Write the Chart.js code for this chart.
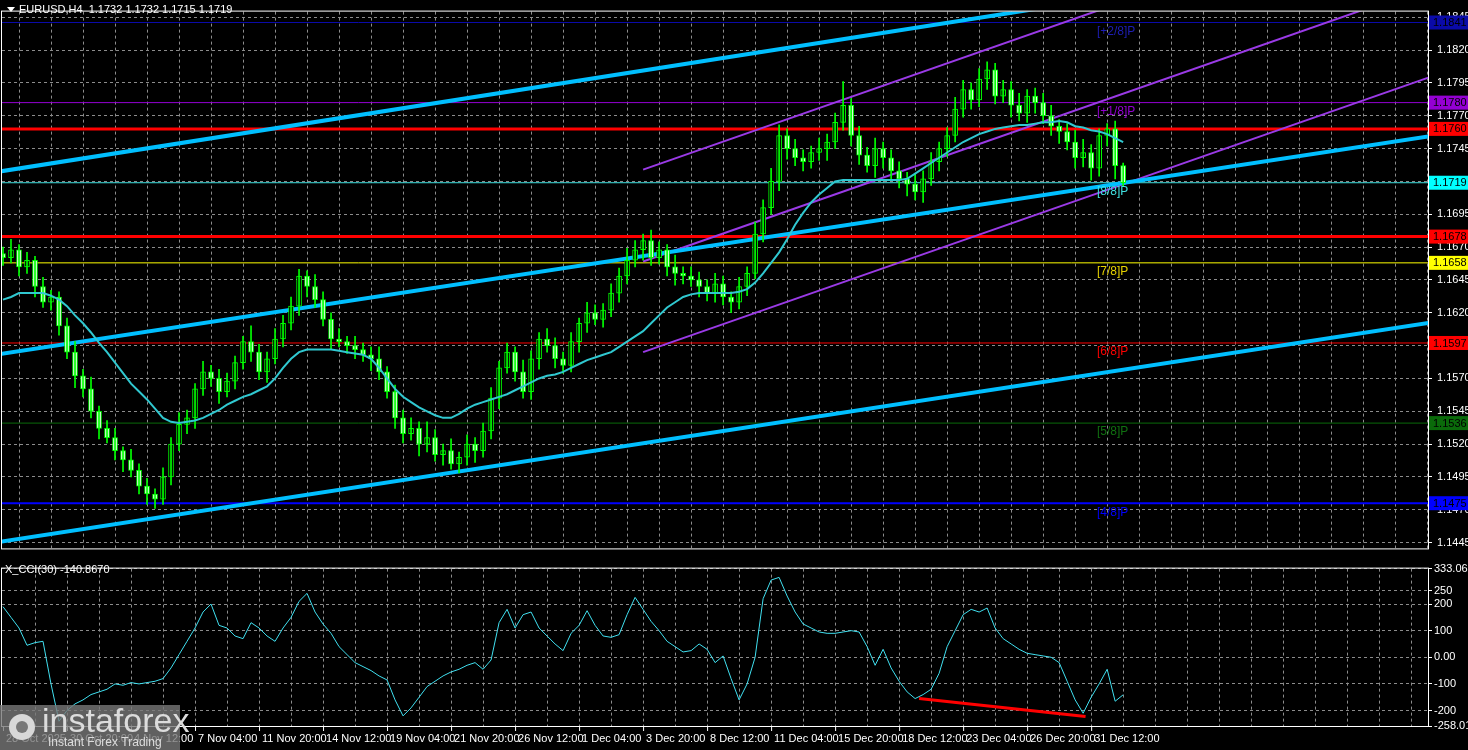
<!DOCTYPE html><html><head><meta charset="utf-8">
<script src="https://cdn.jsdelivr.net/npm/chart.js@4"></script>
<style>body{margin:0;background:#000;overflow:hidden;width:1468px;height:750px;position:relative}.w{position:absolute;left:0;width:1468px}</style></head><body>
<div class="w" style="top:0;height:560px"><canvas id="p" width="1468" height="560"></canvas></div>
<div class="w" style="top:560px;height:190px"><canvas id="c" width="1468" height="190"></canvas></div>
<script>
// ---------- DATA ----------
const firstOpen = 1.1665;
const closes = [
1.1662,1.1668,1.1655,1.1660,1.1640,1.1628,1.1632,1.1610,1.1590,1.1572,
1.1562,1.1545,1.1532,1.1525,1.1515,1.1508,1.1500,1.1488,1.1482,1.1478,
1.1495,1.1520,1.1535,1.1540,1.1562,1.1575,1.1570,1.1560,1.1568,1.1582,
1.1598,1.1590,1.1575,1.1585,1.1600,1.1612,1.1625,1.1648,1.1640,1.1630,
1.1615,1.1600,1.1598,1.1595,1.1592,1.1588,1.1585,1.1575,1.1560,1.1540,
1.1528,1.1532,1.1520,1.1525,1.1512,1.1515,1.1505,1.1510,1.1520,1.1515,
1.1530,1.1555,1.1578,1.1590,1.1575,1.1560,1.1585,1.1600,1.1595,1.1585,
1.1580,1.1598,1.1612,1.1620,1.1615,1.1622,1.1635,1.1648,1.1660,1.1668,
1.1675,1.1662,1.1668,1.1655,1.1650,1.1648,1.1645,1.1640,1.1635,1.1642,
1.1632,1.1628,1.1640,1.1650,1.1680,1.1700,1.1720,1.1755,1.1745,1.1738,
1.1735,1.1742,1.1745,1.1750,1.1765,1.1778,1.1755,1.1740,1.1732,1.1745,
1.1738,1.1728,1.1722,1.1718,1.1712,1.1722,1.1735,1.1745,1.1755,1.1775,
1.1790,1.1782,1.1798,1.1805,1.1785,1.1790,1.1778,1.1772,1.1785,1.1780,
1.1770,1.1762,1.1758,1.1750,1.1738,1.1742,1.1730,1.1755,1.1760,1.1732,1.1719];
const upperWickPips = [
5,8,4,6,3,7,5,4,6,8, 5,9,4,6,7,3,8,5,6,4, 7,5,9,6,4,8,5,7,6,5,
4,12,6,5,8,6,7,5,4,9, 6,5,8,4,7,5,6,9,4,5, 6,8,5,12,6,5,9,4,7,5,
6,8,5,7,4,9,6,5,8,6, 5,7,4,8,6,5,7,6,9,7, 5,8,6,4,9,5,7,6,5,8,
6,4,7,5,9,6,10,8,5,7, 6,5,8,6,7,18,5,7,6,8, 5,6,7,5,8,6,7,5,6,9,
7,5,8,6,5,7,6,9,5,6, 7,8,5,6,9,10,6,5,4,6,2];
const lowerWickPips = [
6,4,7,5,8,4,6,7,5,9, 6,5,8,4,7,9,5,6,8,7, 4,6,5,7,8,5,6,9,4,6,
5,7,6,8,4,6,5,7,8,6, 5,8,4,6,7,5,9,6,5,8, 7,5,9,6,5,8,4,7,6,9,
5,6,8,4,7,5,6,8,5,7, 6,5,8,7,4,6,5,7,6,5, 8,6,5,7,9,6,5,8,6,7,
6,8,5,7,4,6,5,7,8,6, 7,5,6,9,5,6,8,7,5,9, 8,6,7,9,6,8,5,7,6,5,
6,7,5,8,6,5,9,6,7,8, 6,7,9,6,8,7,9,6,8,10,3];
const ma = [
1.1630,1.1632,1.1635,1.1635,1.1635,1.1635,1.1633,1.1630,1.1625,1.1618,
1.1612,1.1605,1.1597,1.1590,1.1582,1.1574,1.1566,1.1560,1.1554,1.1547,
1.1540,1.1537,1.1536,1.1537,1.1538,1.1540,1.1543,1.1546,1.1550,1.1553,
1.1556,1.1558,1.1561,1.1564,1.1570,1.1578,1.1585,1.1590,1.1592,1.1592,
1.1592,1.1592,1.1591,1.1590,1.1589,1.1588,1.1585,1.1578,1.1570,1.1562,
1.1556,1.1552,1.1548,1.1545,1.1542,1.1540,1.1540,1.1543,1.1547,1.1550,
1.1552,1.1554,1.1556,1.1558,1.1561,1.1564,1.1567,1.1570,1.1572,1.1573,
1.1575,1.1578,1.1581,1.1584,1.1586,1.1588,1.1590,1.1594,1.1598,1.1602,
1.1606,1.1612,1.1618,1.1624,1.1628,1.1632,1.1634,1.1635,1.1635,1.1635,
1.1635,1.1635,1.1636,1.1638,1.1643,1.1650,1.1658,1.1666,1.1676,1.1687,
1.1696,1.1704,1.1710,1.1715,1.1720,1.1721,1.1721,1.1721,1.1721,1.1721,
1.1721,1.1721,1.1721,1.1722,1.1726,1.1730,1.1734,1.1738,1.1742,1.1746,
1.1750,1.1753,1.1756,1.1758,1.1760,1.1761,1.1762,1.1763,1.1763,1.1764,
1.1765,1.1765,1.1766,1.1765,1.1762,1.1761,1.1759,1.1758,1.1756,1.1753,1.1750];
const cci = [
190,150,110,45,55,60,-100,-240,-200,-175,
-160,-140,-130,-120,-100,-105,-95,-100,-95,-90,
-80,-40,10,60,110,170,200,120,110,80,
70,130,110,80,60,110,150,210,240,170,
125,90,40,10,-20,-35,-50,-70,-85,-160,
-220,-190,-150,-110,-90,-70,-55,-45,-30,-20,
-45,-10,130,180,110,160,170,110,80,50,
25,90,120,175,120,80,75,85,160,225,
180,135,100,60,40,20,25,50,30,-20,
5,-80,-160,-100,0,220,290,300,230,170,
125,110,95,90,90,95,100,95,40,-30,
30,-40,-90,-130,-155,-140,-120,-60,40,100,
160,180,170,185,110,70,50,30,15,10,
5,0,-20,-90,-160,-210,-150,-100,-45,-165,-140.867];
const divergence = [{k:114.5, v:-155}, {k:135.3, v:-222}];
const cyanChannel = [[[-1,1.1727],[180,1.1900]], [[-1,1.1588],[180,1.1756]], [[-1,1.1445],[180,1.1614]]];
const purpleChannel = [[[80,1.1729],[180,1.1942]], [[80,1.1659],[180,1.1872]], [[80,1.1590],[180,1.1803]]];
const levels = [1.1841, 1.1780, 1.1760, 1.1719, 1.1678, 1.1658, 1.1597, 1.1536, 1.1475];
const levelNames = ['[+2/8]P','[+1/8]P','','[8/8]P','','[7/8]P','[6/8]P','[5/8]P','[4/8]P'];
const priceTicks = [1.1445,1.1470,1.1495,1.1520,1.1545,1.1570,1.1595,1.1620,1.1645,1.1670,1.1695,1.1720,1.1745,1.1770,1.1795,1.1820,1.1845];
const cciTicks = [333.061,250,200,100,0,-100,-200,-258.013];
const xLabels = ['28 Oct 2025','30 Oct 20:00','4 Nov 12:00','7 Nov 04:00','11 Nov 20:00','14 Nov 12:00','19 Nov 04:00','21 Nov 20:00','26 Nov 12:00','1 Dec 04:00','3 Dec 20:00','8 Dec 12:00','11 Dec 04:00','15 Dec 20:00','18 Dec 12:00','23 Dec 04:00','26 Dec 20:00','31 Dec 12:00'];
const title = 'EURUSD,H4  1.1732 1.1732 1.1715 1.1719';
const cciTitle = 'X_CCI(30) -140.8670';

// ---------- STYLE ----------
const levelStyle = [
 {c:'#0a0aa8',w:1,box:'#0a0aa8',t:'#000'},{c:'#9400d3',w:1,box:'#9400d3',t:'#000'},
 {c:'#ff0000',w:3,box:'#ff0000',t:'#000'},{c:'#40e0e0',w:1,box:'#00ffff',t:'#000'},
 {c:'#ff0000',w:3,box:'#ff0000',t:'#000'},{c:'#ffff00',w:1,box:'#ffff00',t:'#000'},
 {c:'#ff0000',w:1,box:'#ff0000',t:'#000'},{c:'#0a6a0a',w:1,box:'#0a6a0a',t:'#000'},
 {c:'#0000ff',w:2,box:'#0000ff',t:'#000'}];
const labelColors = ['#1e1eb4','#9400d3','','#40e0e0','','#e6d200','#ff0000','#107010','#0000ff'];
const XMIN = -0.125, XMAX = 178.1;
const FONT = '"Liberation Sans", Arial, sans-serif';
Chart.defaults.font.family = FONT;

const opens = closes.map((c,i)=> i===0 ? firstOpen : closes[i-1]);
const bodies = closes.map((c,i)=>({x:i, y:[opens[i], c]}));
const wicks = closes.map((c,i)=>({x:i, y:[Math.min(opens[i],c)-lowerWickPips[i]/10000, Math.max(opens[i],c)+upperWickPips[i]/10000]}));
const bodyColors = closes.map((c,i)=> c>=opens[i] ? '#000000' : '#e8ffe8');

const gridCommon = {color:'#8c8c8c', lineWidth:1, tickColor:'#fff', tickLength:4};

function frame(chart){
  const {ctx, chartArea:a} = chart;
  ctx.save(); ctx.strokeStyle='#fff'; ctx.lineWidth=1;
  ctx.strokeRect(a.left-0.5, a.top-0.5, a.right-a.left+1, a.bottom-a.top+1);
  ctx.restore();
}

const datasets = [];
cyanChannel.forEach(l=>datasets.push({type:'line', data:l.map(p=>({x:p[0],y:p[1]})), borderColor:'#00bfff', borderWidth:4, pointRadius:0, order:3}));
purpleChannel.forEach(l=>datasets.push({type:'line', data:l.map(p=>({x:p[0],y:p[1]})), borderColor:'#9a3ae6', borderWidth:2, pointRadius:0, order:3}));
levels.forEach((v,i)=>datasets.push({type:'line', data:[{x:XMIN,y:v},{x:XMAX,y:v}], borderColor:levelStyle[i].c, borderWidth:levelStyle[i].w, pointRadius:0, order:4}));
datasets.push({type:'line', data:ma.map((v,i)=>({x:i,y:v})), borderColor:'#30c8d0', borderWidth:2, pointRadius:0, order:1});
datasets.push({type:'bar', data:wicks, backgroundColor:'#00ff00', barThickness:1, grouped:false, order:2});
datasets.push({type:'bar', data:bodies, backgroundColor:bodyColors, borderColor:'#00ff00', borderWidth:1, borderSkipped:false, barThickness:5, grouped:false, order:2});

const pricePlugin = {id:'pp', afterDraw(chart){
  frame(chart);
  const {ctx, chartArea:a, scales:{y}} = chart;
  ctx.save();
  ctx.font = '12px '+FONT; ctx.textBaseline='top';
  levels.forEach((v,i)=>{ if(!levelNames[i]) return; ctx.fillStyle=labelColors[i]; ctx.fillText(levelNames[i], 1097, y.getPixelForValue(v)+3); });
  ctx.font = '11px '+FONT; ctx.textBaseline='middle';
  levels.forEach((v,i)=>{ const py=y.getPixelForValue(v); ctx.fillStyle=levelStyle[i].box; ctx.fillRect(a.right+1, py-7, 39, 14); ctx.fillStyle=levelStyle[i].t; ctx.fillText(v.toFixed(4), a.right+5, py+0.5); });
  ctx.fillStyle='#fff'; ctx.textBaseline='middle';
  ctx.beginPath(); ctx.moveTo(7,7); ctx.lineTo(15,7); ctx.lineTo(11,12); ctx.closePath(); ctx.fill();
  ctx.fillText(title, 19, 10);
  ctx.restore();
}};

new Chart(document.getElementById('p'), {
  data:{datasets},
  options:{responsive:false, animation:false, devicePixelRatio:1,
    layout:{padding:{left:2, top:2, right:0, bottom:0}},
    plugins:{legend:{display:false}, tooltip:{enabled:false}},
    scales:{
      x:{type:'linear', min:XMIN, max:XMAX, offset:false, ticks:{display:false}, border:{display:false, dash:[3,3]},
         grid:{...gridCommon, drawTicks:false}, afterBuildTicks:s=>{s.ticks=[]; for(let k=4;k<XMAX;k+=4) s.ticks.push({value:k});}, afterFit:s=>{s.height=2;}},
      y:{position:'right', min:1.14406, max:1.18493, border:{display:false, dash:[3,3]},
         grid:{...gridCommon},
         afterBuildTicks:s=>{s.ticks=priceTicks.map(v=>({value:v}));},
         ticks:{color:'#fff', font:{size:11}, padding:5, callback:v=>v.toFixed(4)},
         afterFit:s=>{s.width=40;}}
    }},
  plugins:[pricePlugin]
});

// ---------- CCI ----------
const cciPlugin = {id:'cp', afterDraw(chart){
  frame(chart);
  const {ctx, chartArea:a, scales:{x}} = chart;
  ctx.save(); ctx.fillStyle='#fff'; ctx.font='11px '+FONT; ctx.textBaseline='middle';
  ctx.fillText(cciTitle, 5, 10);
  ctx.strokeStyle='#fff';
  xLabels.forEach((t,i)=>{ const px=x.getPixelForValue(i*8); ctx.beginPath(); ctx.moveTo(px+0.5,a.bottom); ctx.lineTo(px+0.5,a.bottom+5); ctx.stroke(); ctx.fillText(t, px+3, a.bottom+13); });
  ctx.fillStyle='rgba(120,120,120,0.8)'; ctx.fillRect(0,145,180,45);
  ctx.fillStyle='#d8d8d8'; ctx.beginPath(); ctx.arc(22,167,13,0,Math.PI*2); ctx.fill();
  ctx.fillStyle='rgb(120,120,120)'; ctx.beginPath(); ctx.arc(22,167,6,0,Math.PI*2); ctx.fill();
  ctx.fillStyle='#dcdcdc'; ctx.font='34px '+FONT; ctx.fillText('instaforex', 42, 163);
  ctx.font='12px '+FONT; ctx.fillText('Instant Forex Trading', 48, 183);
  ctx.restore();
}};
new Chart(document.getElementById('c'), {
  data:{datasets:[
    {type:'line', data:cci.map((v,i)=>({x:i,y:v})), borderColor:'#40e0f0', borderWidth:1, pointRadius:0, order:2},
    {type:'line', data:divergence.map(p=>({x:p.k,y:p.v})), borderColor:'#ff0000', borderWidth:3, pointRadius:0, order:1}
  ]},
  options:{responsive:false, animation:false, devicePixelRatio:1,
    layout:{padding:{left:2, top:2, right:0, bottom:0}},
    plugins:{legend:{display:false}, tooltip:{enabled:false}},
    scales:{
      x:{type:'linear', min:XMIN, max:XMAX, ticks:{display:false}, border:{display:false, dash:[3,3]},
         grid:{...gridCommon, drawTicks:false}, afterBuildTicks:s=>{s.ticks=[]; for(let k=4;k<XMAX;k+=4) s.ticks.push({value:k});}, afterFit:s=>{s.height=24;}},
      y:{position:'right', min:-258.013, max:333.061, border:{display:false, dash:[3,3]},
         grid:{...gridCommon},
         afterBuildTicks:s=>{s.ticks=cciTicks.map(v=>({value:v}));},
         ticks:{color:'#fff', font:{size:11}, padding:2, callback:v=> v===0?'0.00':(Number.isInteger(v)?String(v):v.toFixed(3))},
         afterFit:s=>{s.width=40;}}
    }},
  plugins:[cciPlugin]
});
</script></body></html>
